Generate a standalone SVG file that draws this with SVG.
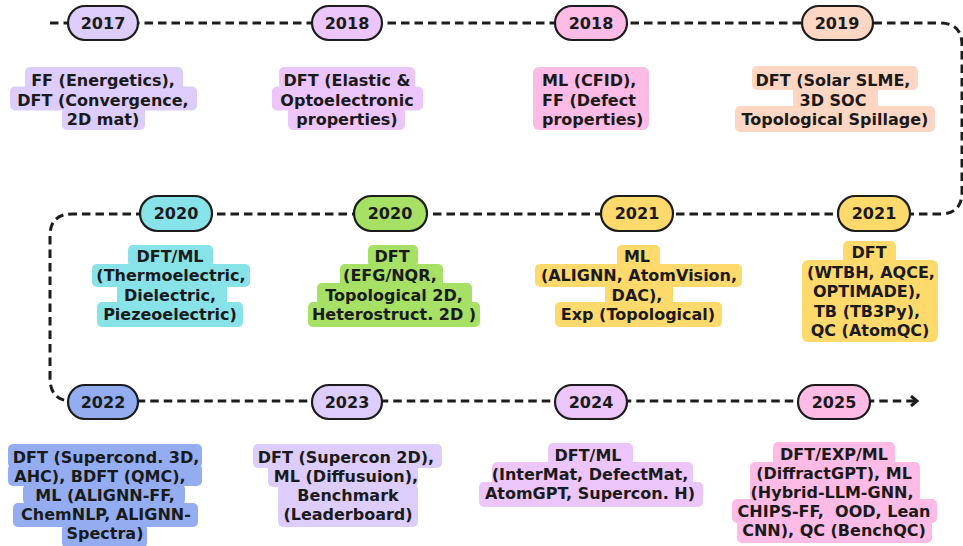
<svg xmlns="http://www.w3.org/2000/svg" width="963" height="546" viewBox="0 0 963 546">
<style>
.t{font-family:"DejaVu Sans","Liberation Sans",sans-serif;font-weight:bold;font-size:16px;fill:#1a1a1a;text-anchor:middle}
.y{font-family:"DejaVu Sans","Liberation Sans",sans-serif;font-weight:bold;font-size:16px;fill:#1a1a1a;text-anchor:middle}
.pill{stroke:#1c1c1c;stroke-width:2.2}
.ln{fill:none;stroke:#1c1c1c;stroke-width:3;stroke-dasharray:8.5 5}
.p1{fill:#dccdfd}.p2{fill:#ecc5fa}.pk{fill:#fdbbe6}.pe{fill:#fed6c4}
.cy{fill:#88e3e9}.gr{fill:#a6e065}.ye{fill:#fed96c}.bl{fill:#93adf0}
</style>
<defs>
<marker id="chev" viewBox="0 0 10 12" refX="8" refY="6" markerWidth="10" markerHeight="12" markerUnits="userSpaceOnUse" orient="auto">
<path d="M2,1 L8,6 L2,11" fill="none" stroke="#1c1c1c" stroke-width="3"/>
</marker>
</defs>
<g id="connectors">
<path class="ln" d="M50,23 H940 Q962,23 962,45 V192 Q962,214 940,214 H72 Q50,214 50,236 V378 Q50,401 72,401 H917" marker-end="url(#chev)"/>
</g>
<g id="n2017">
<rect class="pill p1" x="68" y="6" width="70" height="34" rx="17"/>
<text class="y" x="103" y="28.8">2017</text>
<g class="p1"><rect x="25" y="67" width="158" height="24" rx="5"/><rect x="10" y="86.5" width="187" height="24" rx="5"/><rect x="62" y="106" width="83" height="24" rx="5"/></g>
<text class="t" y="86"><tspan x="103">FF (Energetics),</tspan><tspan x="103" dy="19.5">DFT (Convergence,</tspan><tspan x="103" dy="19.5">2D mat)</tspan></text>
</g>
<g id="n2018a">
<rect class="pill p2" x="312" y="6" width="70" height="34" rx="17"/>
<text class="y" x="347" y="28.8">2018</text>
<g class="p2"><rect x="279" y="67" width="136" height="24" rx="5"/><rect x="272" y="86.5" width="151" height="24" rx="5"/><rect x="288" y="106" width="117" height="24" rx="5"/></g>
<text class="t" y="86"><tspan x="347">DFT (Elastic &amp;</tspan><tspan x="347" dy="19.5">Optoelectronic</tspan><tspan x="347" dy="19.5">properties)</tspan></text>
</g>
<g id="n2018b">
<rect class="pill pk" x="555" y="6" width="72" height="34" rx="17"/>
<text class="y" x="591" y="28.8">2018</text>
<rect class="pk" x="533" y="67" width="116" height="63" rx="6"/>
<text class="t" y="86" style="text-anchor:start"><tspan x="542">ML (CFID),</tspan><tspan x="542" dy="19.5">FF (Defect</tspan><tspan x="542" dy="19.5">properties)</tspan></text>
</g>
<g id="n2019">
<rect class="pill pe" x="802" y="6" width="71" height="34" rx="17"/>
<text class="y" x="837" y="28.8">2019</text>
<g class="pe"><rect x="752" y="66" width="166" height="24" rx="5"/><rect x="793" y="86.5" width="85" height="24" rx="5"/><rect x="735" y="106" width="200" height="26" rx="5"/></g>
<text class="t" y="86"><tspan x="833">DFT (Solar SLME,</tspan><tspan x="833" dy="19.5">3D SOC</tspan><tspan x="835" dy="19.5">Topological Spillage)</tspan></text>
</g>
<g id="n2020a">
<rect class="pill cy" x="140" y="196" width="72" height="35" rx="17.5"/>
<text class="y" x="176" y="219.3">2020</text>
<g class="cy"><rect x="128" y="245" width="85" height="22" rx="5"/><rect x="92" y="264" width="158" height="23" rx="5"/><rect x="117" y="283" width="110" height="23" rx="5"/><rect x="97" y="302" width="146" height="25" rx="5"/></g>
<text class="t" y="262"><tspan x="170">DFT/ML</tspan><tspan x="171" dy="19.3">(Thermoelectric,</tspan><tspan x="170" dy="19.3">Dielectric,</tspan><tspan x="170" dy="19.3">Piezeoelectric)</tspan></text>
</g>
<g id="n2020b">
<rect class="pill gr" x="354" y="196" width="73" height="35" rx="17.5"/>
<text class="y" x="390" y="219.3">2020</text>
<g class="gr"><rect x="368" y="245" width="50" height="22" rx="5"/><rect x="340" y="264" width="103" height="23" rx="5"/><rect x="317" y="283" width="155" height="23" rx="5"/><rect x="308" y="302" width="172" height="25" rx="5"/></g>
<text class="t" y="262"><tspan x="392">DFT</tspan><tspan x="390" dy="19.3">(EFG/NQR,</tspan><tspan x="394" dy="19.3">Topological 2D,</tspan><tspan x="394" dy="19.3">Heterostruct. 2D )</tspan></text>
</g>
<g id="n2021a">
<rect class="pill ye" x="601" y="196" width="72" height="35" rx="17.5"/>
<text class="y" x="637" y="219.3">2021</text>
<g class="ye"><rect x="617" y="245" width="43" height="22" rx="5"/><rect x="535" y="264" width="207" height="23" rx="5"/><rect x="605" y="283" width="68" height="23" rx="5"/><rect x="555" y="302" width="167" height="25" rx="5"/></g>
<text class="t" y="262"><tspan x="637">ML</tspan><tspan x="639" dy="19.3">(ALIGNN, AtomVision,</tspan><tspan x="637" dy="19.3">DAC),</tspan><tspan x="638" dy="19.3">Exp (Topological)</tspan></text>
</g>
<g id="n2021b">
<rect class="pill ye" x="838" y="196" width="72" height="35" rx="17.5"/>
<text class="y" x="874" y="219.3">2021</text>
<g class="ye"><rect x="843" y="241" width="53" height="23" rx="5"/><rect x="802" y="260" width="136" height="82" rx="6"/></g>
<text class="t" y="258"><tspan x="869">DFT</tspan><tspan x="871" dy="19.5">(WTBH, AQCE,</tspan><tspan x="867" dy="19.5">OPTIMADE),</tspan><tspan x="867" dy="19.5">TB (TB3Py),</tspan><tspan x="870" dy="19.5">QC (AtomQC)</tspan></text>
</g>
<g id="n2022">
<rect class="pill bl" x="68" y="385" width="70" height="34" rx="17"/>
<text class="y" x="103" y="408">2022</text>
<g class="bl"><rect x="8" y="444" width="194" height="24" rx="5"/><rect x="8" y="464" width="194" height="22" rx="5"/><rect x="23" y="484" width="162" height="21" rx="5"/><rect x="13" y="503" width="185" height="24" rx="5"/><rect x="62" y="524" width="85" height="24" rx="5"/></g>
<text class="t" y="462.5"><tspan x="106">DFT (Supercond. 3D,</tspan><tspan x="100" dy="19.2">AHC), BDFT (QMC),</tspan><tspan x="105" dy="19.2">ML (ALIGNN-FF,</tspan><tspan x="106" dy="19.2">ChemNLP, ALIGNN-</tspan><tspan x="105" dy="19.2">Spectra)</tspan></text>
</g>
<g id="n2023">
<rect class="pill p1" x="312" y="385" width="70" height="34" rx="17"/>
<text class="y" x="347" y="408">2023</text>
<g class="p1"><rect x="253" y="444" width="189" height="24" rx="5"/><rect x="268" y="464" width="150" height="23" rx="5"/><rect x="278" y="484" width="140" height="43" rx="5"/></g>
<text class="t" y="462.5"><tspan x="346">DFT (Supercon 2D),</tspan><tspan x="346" dy="19.2">ML (Diffusuion),</tspan><tspan x="348" dy="19.2">Benchmark</tspan><tspan x="348" dy="19.2">(Leaderboard)</tspan></text>
</g>
<g id="n2024">
<rect class="pill p2" x="555" y="385" width="72" height="34" rx="17"/>
<text class="y" x="591" y="408">2024</text>
<g class="p2"><rect x="548" y="443" width="85" height="22" rx="5"/><rect x="492" y="462" width="201" height="24" rx="5"/><rect x="479" y="482" width="224" height="25" rx="5"/></g>
<text class="t" y="460.5"><tspan x="588">DFT/ML</tspan><tspan x="590" dy="19.3">(InterMat, DefectMat,</tspan><tspan x="590" dy="19.3">AtomGPT, Supercon. H)</tspan></text>
</g>
<g id="n2025">
<rect class="pill pk" x="798" y="385" width="72" height="34" rx="17"/>
<text class="y" x="834" y="408">2025</text>
<g class="pk"><rect x="773" y="442" width="122" height="23" rx="5"/><rect x="750" y="462" width="170" height="40" rx="5"/><rect x="732" y="499" width="205" height="24" rx="5"/><rect x="737" y="520" width="195" height="23" rx="5"/></g>
<text class="t" y="459.5" xml:space="preserve"><tspan x="834">DFT/EXP/ML</tspan><tspan x="834" dy="19">(DiffractGPT), ML</tspan><tspan x="832" dy="19">(Hybrid-LLM-GNN,</tspan><tspan x="834" dy="19">CHIPS-FF,  OOD, Lean</tspan><tspan x="834" dy="19">CNN), QC (BenchQC)</tspan></text>
</g>
</svg>
